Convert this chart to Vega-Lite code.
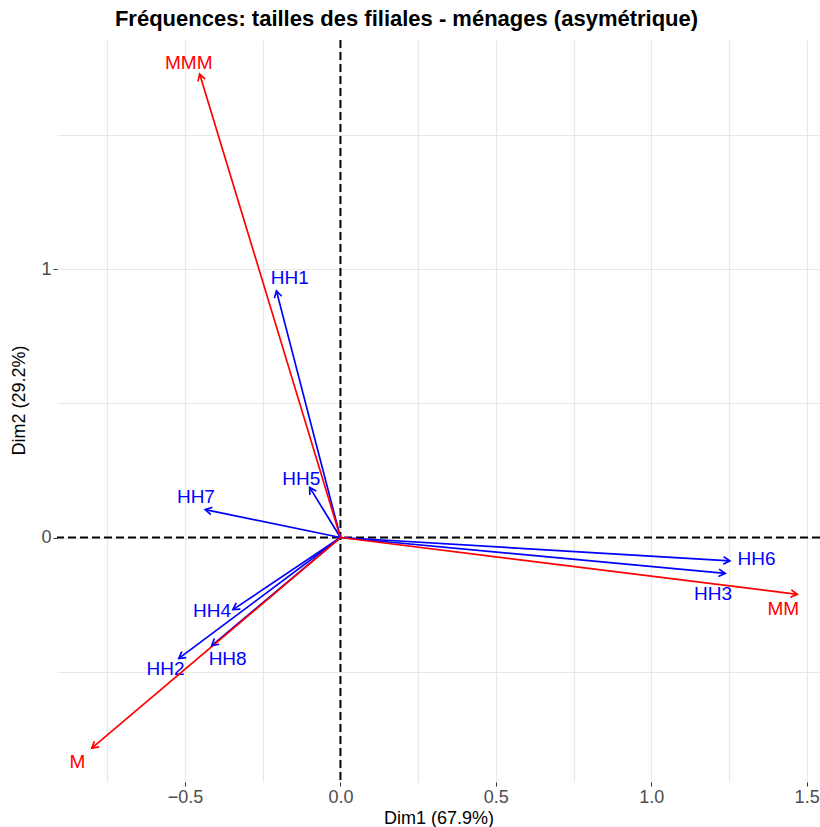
{
  "$schema": "https://vega.github.io/schema/vega-lite/v6.json",
  "width": 763,
  "height": 742,
  "autosize": {"type": "none"},
  "padding": {"left": 57, "top": 40, "right": 0, "bottom": 45},
  "background": "white",
  "config": {
    "view": {"stroke": null},
    "font": "Liberation Sans"
  },
  "title": {
    "text": "Fréquences: tailles des filiales - ménages (asymétrique)",
    "font": "Liberation Sans",
    "fontSize": 22,
    "fontWeight": "bold",
    "color": "black",
    "anchor": "middle",
    "frame": "group",
    "dx": -32,
    "offset": 8
  },
  "datasets": {
    "arrows": [
      {"name": "HH1", "type": "row", "x": -0.206, "y": 0.920, "lx": -0.163, "ly": 0.970},
      {"name": "HH2", "type": "row", "x": -0.520, "y": -0.451, "lx": -0.563, "ly": -0.490},
      {"name": "HH3", "type": "row", "x": 1.238, "y": -0.134, "lx": 1.199, "ly": -0.209},
      {"name": "HH4", "type": "row", "x": -0.346, "y": -0.269, "lx": -0.413, "ly": -0.274},
      {"name": "HH5", "type": "row", "x": -0.099, "y": 0.187, "lx": -0.126, "ly": 0.220},
      {"name": "HH6", "type": "row", "x": 1.253, "y": -0.087, "lx": 1.339, "ly": -0.080},
      {"name": "HH7", "type": "row", "x": -0.435, "y": 0.104, "lx": -0.465, "ly": 0.151},
      {"name": "HH8", "type": "row", "x": -0.414, "y": -0.403, "lx": -0.363, "ly": -0.453},
      {"name": "MMM", "type": "col", "x": -0.453, "y": 1.729, "lx": -0.488, "ly": 1.771},
      {"name": "M", "type": "col", "x": -0.800, "y": -0.786, "lx": -0.846, "ly": -0.838},
      {"name": "MM", "type": "col", "x": 1.470, "y": -0.212, "lx": 1.425, "ly": -0.265}
    ],
    "origin": [{"v": 0}]
  },
  "layer": [
    {
      "data": {"name": "arrows"},
      "mark": {"type": "text", "fontSize": 19, "font": "Liberation Sans", "align": "center", "baseline": "middle"},
      "encoding": {
        "x": {
          "field": "lx", "type": "quantitative",
          "scale": {"domain": [-0.912, 1.543], "nice": false, "zero": false},
          "axis": {
            "values": [-0.75, -0.5, -0.25, 0, 0.25, 0.5, 0.75, 1, 1.25, 1.5],
            "grid": true, "gridColor": "#e8e8e8", "gridWidth": 1.2,
            "domain": false,
            "tickSize": 4, "tickWidth": 1,
            "tickColor": {"condition": {"test": "abs(datum.value*4) % 2 == 1", "value": "transparent"}, "value": "#333333"},
            "labelExpr": "abs(datum.value*4) % 2 == 1 ? '' : format(datum.value, '.1f')",
            "labelFontSize": 18, "labelColor": "#4d4d4d", "labelPadding": 2,
            "labelFlush": false, "labelOverlap": false,
            "title": "Dim1 (67.9%)", "titleFontSize": 18, "titleFontWeight": "normal", "titleColor": "black", "titlePadding": 3
          }
        },
        "y": {
          "field": "ly", "type": "quantitative",
          "scale": {"domain": [-0.912, 1.856], "nice": false, "zero": false},
          "axis": {
            "values": [-0.5, 0, 0.5, 1, 1.5],
            "grid": true, "gridColor": "#e8e8e8", "gridWidth": 1.2,
            "domain": false,
            "tickSize": 4, "tickWidth": 1,
            "tickColor": {"condition": {"test": "datum.value % 1 != 0", "value": "transparent"}, "value": "#333333"},
            "labelExpr": "datum.value % 1 != 0 ? '' : format(datum.value, 'd')",
            "labelFontSize": 18, "labelColor": "#4d4d4d", "labelPadding": 2,
            "labelFlush": false, "labelOverlap": false,
            "title": "Dim2 (29.2%)", "titleFontSize": 18, "titleFontWeight": "normal", "titleColor": "black", "titlePadding": 12,
            "titleY": 360
          }
        },
        "text": {"field": "name"},
        "color": {"field": "type", "type": "nominal", "scale": {"domain": ["row", "col"], "range": ["#0000ff", "#ff0000"]}, "legend": null}
      }
    },
    {
      "data": {"name": "origin"},
      "mark": {"type": "rule", "color": "black", "strokeWidth": 2, "strokeDash": [8, 4]},
      "encoding": {
        "x": {"field": "v", "type": "quantitative"}
      }
    },
    {
      "data": {"name": "origin"},
      "mark": {"type": "rule", "color": "black", "strokeWidth": 2, "strokeDash": [8, 4]},
      "encoding": {
        "y": {"field": "v", "type": "quantitative"}
      }
    },
    {
      "data": {"name": "arrows"},
      "mark": {"type": "rule", "strokeWidth": 1.7},
      "encoding": {
        "x": {"field": "x", "type": "quantitative"},
        "y": {"field": "y", "type": "quantitative"},
        "x2": {"datum": 0},
        "y2": {"datum": 0},
        "color": {"field": "type", "type": "nominal", "legend": null}
      }
    },
    {
      "data": {"name": "arrows"},
      "transform": [
        {"calculate": "atan2(datum.x * 310.8, datum.y * 268.1) * 180 / PI", "as": "ang"}
      ],
      "mark": {"type": "point", "shape": "M-0.5,0.866L0,0L0.5,0.866", "filled": false, "strokeWidth": 1.7, "size": 225, "opacity": 1},
      "encoding": {
        "x": {"field": "x", "type": "quantitative"},
        "y": {"field": "y", "type": "quantitative"},
        "angle": {"field": "ang", "type": "quantitative", "scale": null},
        "color": {"field": "type", "type": "nominal", "legend": null}
      }
    }
  ]
}
